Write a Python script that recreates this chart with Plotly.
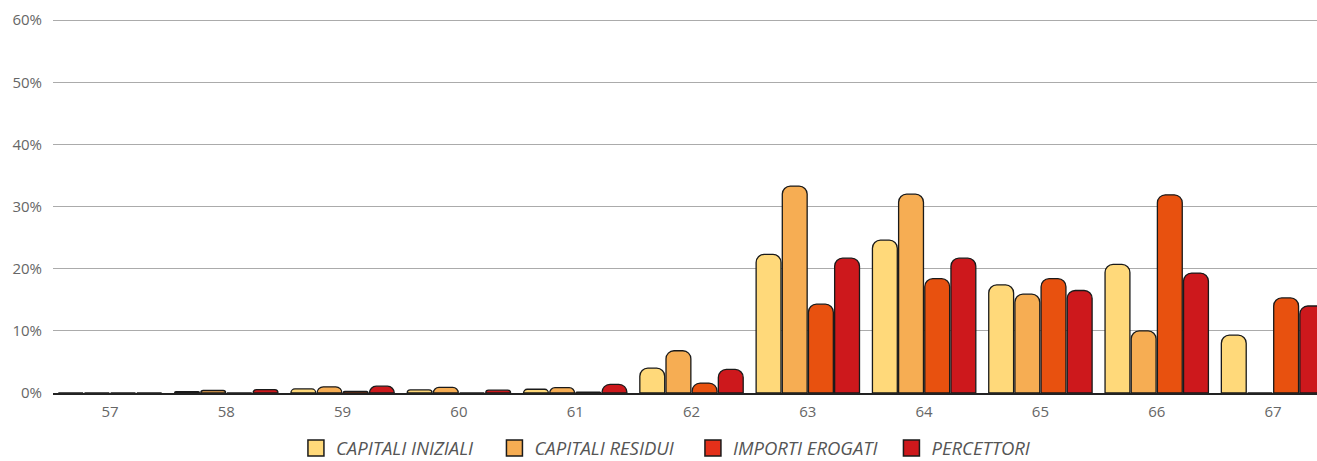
import plotly.graph_objects as go

categories = ["57", "58", "59", "60", "61", "62", "63", "64", "65", "66", "67"]
capitali_iniziali = [0.0, 0.2, 0.65, 0.5, 0.6, 4.0, 22.3, 24.6, 17.4, 20.7, 9.3]
capitali_residui = [0.0, 0.4, 1.0, 0.9, 0.85, 6.8, 33.3, 32.0, 15.9, 10.0, 0.0]
importi_erogati = [0.0, 0.0, 0.25, 0.0, 0.15, 1.6, 14.3, 18.4, 18.4, 31.9, 15.3]
percettori = [0.0, 0.55, 1.1, 0.45, 1.4, 3.8, 21.7, 21.7, 16.5, 19.3, 14.0]
y_ticks = [0, 10, 20, 30, 40, 50, 60]
y_tick_labels = ["0%", "10%", "20%", "30%", "40%", "50%", "60%"]

series = [
    ("CAPITALI INIZIALI", capitali_iniziali, "#FFD97A", "#FFD97A"),
    ("CAPITALI RESIDUI", capitali_residui, "#F6AD53", "#F6AD53"),
    ("IMPORTI EROGATI", importi_erogati, "#E8510F", "#E4301A"),
    ("PERCETTORI", percettori, "#CD181C", "#CD181C"),
]

fig = go.Figure()
for name, vals, col, legcol in series:
    fig.add_trace(go.Bar(
        x=categories, y=vals, name=name, showlegend=False,
        marker=dict(color=col, line=dict(color="#1a1a1a", width=1.3)),
    ))
for name, vals, col, legcol in series:
    fig.add_trace(go.Scatter(
        x=[None], y=[None], name=name, mode="markers",
        marker=dict(symbol="square", size=16, color=legcol,
                    line=dict(color="#1a1a1a", width=1.5)),
    ))

font_family = "Open Sans, sans-serif"
fig.update_layout(
    width=1317, height=461,
    margin=dict(l=53, r=0, t=19, b=68, autoexpand=False),
    paper_bgcolor="white", plot_bgcolor="white",
    barmode="group", bargap=0.1, bargroupgap=0.05,
    barcornerradius=8,
    font=dict(family=font_family, color="#666", size=15),
    showlegend=True,
    legend=dict(
        orientation="h", x=0.1922, xanchor="left", y=-0.148, yanchor="middle",
        font=dict(family=font_family, size=18.5, color="#555", style="italic"),
        entrywidth=153.5, entrywidthmode="pixels",
        itemsizing="trace", borderwidth=0,
    ),
    xaxis=dict(
        type="category", range=[-0.49, 10.378],
        showgrid=False, showline=True, linecolor="#222", linewidth=1.5,
        ticks="", tickfont=dict(size=15, color="#666"), ticklabelstandoff=4,
    ),
    yaxis=dict(
        range=[0, 60.2], tickvals=y_ticks, ticktext=y_tick_labels,
        showgrid=True, gridcolor="#ababab", gridwidth=1,
        zeroline=False, showline=False, ticks="",
        tickfont=dict(size=15, color="#666"), ticklabelstandoff=10,
    ),
)

fig.write_html(
    "out.html",
    config={"displayModeBar": False},
    post_script="document.body.style.margin='0';document.body.style.overflow='hidden';",
)
